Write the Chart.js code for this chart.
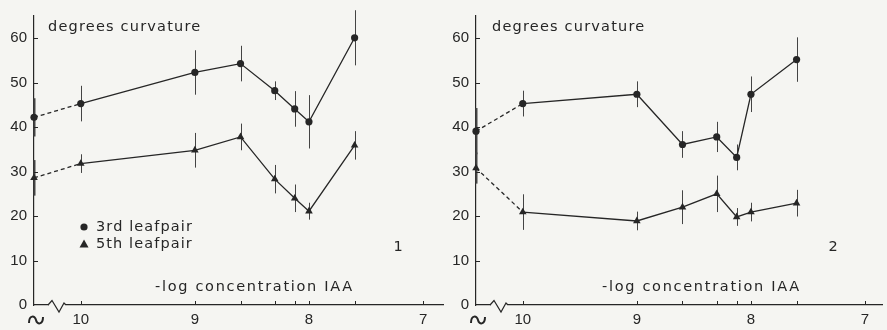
<!DOCTYPE html>
<html>
<head>
<meta charset="utf-8">
<script src="https://cdn.jsdelivr.net/npm/chart.js@4.4.0/dist/chart.umd.min.js"></script>
<style>
    html, body { margin: 0; padding: 0; background: #f5f5f2; }
    body { width: 887px; height: 330px; position: relative; overflow: hidden; }
    .panel { position: absolute; top: 0; height: 330px; }
    #panel1 { left: 0; width: 448px; }
    #panel2 { left: 442px; width: 445px; }
</style>
</head>
<body>
<div class="panel" id="panel1"><canvas id="chart1" width="448" height="330"></canvas></div>
<div class="panel" id="panel2"><canvas id="chart2" width="445" height="330"></canvas></div>
<script>
// -log concentration IAA; the control (no IAA) sits on the axis break
const CONTROL = 10.41;
const concentrations = [CONTROL, 10, 9, 8.6, 8.3, 8.125, 8, 7.6];
const xTickValues = [7, 7.6, 8, 8.125, 8.3, 8.6, 9, 10];
const yTickValues = [0, 10, 20, 30, 40, 50, 60];

// panel 1
const p1Leaf3    = [42.2, 45.3, 52.3, 54.3, 48.2, 44.1, 41.2, 60.1];
const p1Leaf3Err = [4.3, 4.0, 5.0, 4.0, 2.1, 4.0, 6.0, 6.2];
const p1Leaf5    = [28.6, 31.8, 34.8, 37.8, 28.3, 24.0, 21.1, 35.9];
const p1Leaf5Err = [4.0, 2.1, 3.9, 3.0, 3.2, 3.1, 1.9, 3.2];

// panel 2
const p2Leaf3    = [39.1, 45.3, 47.4, 36.1, 37.8, 33.2, 47.4, 55.2];
const p2Leaf3Err = [5.2, 2.9, 2.9, 3.0, 3.4, 2.9, 4.0, 5.0];
const p2Leaf5    = [30.8, 20.9, 18.9, 22.0, 25.0, 19.8, 20.9, 22.9];
const p2Leaf5Err = [3.5, 4.0, 2.1, 3.8, 4.1, 2.0, 2.1, 3.0];

const INK   = '#262626';
const PAPER = '#f5f5f2';
const TEXT_FONT = '14.5px "DejaVu Sans", sans-serif';
const TICK_FONT = { family: 'Liberation Sans', size: 15 };

const toPoints = vals => vals.map((v, i) => ({ x: concentrations[i], y: v }));

function series(label, vals, errs, style) {
    return {
        label,
        data: toPoints(vals),
        errors: errs,
        borderColor: INK, backgroundColor: INK,
        borderWidth: 1.3,
        pointStyle: style,
        pointRadius: style === 'circle' ? 3.6 : 4.4,
        pointBorderWidth: 0,
        pointBackgroundColor: INK,
        clip: false,
        tension: 0,
        segment: { borderDash: c => c.p0DataIndex === 0 ? [4, 3] : undefined }
    };
}

// error bars, tick marks, axis break and hand-lettered labels
const inkPlugin = {
    id: 'ink',
    beforeDatasetsDraw(chart) {
        const { ctx, scales: { x, y } } = chart;
        ctx.save();
        ctx.strokeStyle = '#444';
        chart.data.datasets.forEach(ds => {
            ds.data.forEach((p, i) => {
                const e = ds.errors[i];
                const px = Math.round(x.getPixelForValue(p.x)) + 0.5;
                ctx.lineWidth = i === 0 ? 2 : 1;   // control bar sits on the axis, drawn heavier
                ctx.beginPath();
                ctx.moveTo(px, y.getPixelForValue(p.y - e));
                ctx.lineTo(px, y.getPixelForValue(p.y + e));
                ctx.stroke();
            });
        });
        ctx.restore();
    },
    afterDraw(chart, args, opts) {
        const { ctx, chartArea: a, scales: { x, y } } = chart;
        ctx.save();
        ctx.strokeStyle = INK;
        ctx.fillStyle = INK;
        ctx.lineWidth = 1;

        // inward tick marks
        xTickValues.forEach(v => {
            const px = Math.round(x.getPixelForValue(v)) + 0.5;
            ctx.beginPath(); ctx.moveTo(px, a.bottom); ctx.lineTo(px, a.bottom - 4); ctx.stroke();
        });
        yTickValues.slice(1).forEach(v => {
            const py = Math.round(y.getPixelForValue(v)) + 0.5;
            ctx.beginPath(); ctx.moveTo(a.left, py); ctx.lineTo(a.left + 4, py); ctx.stroke();
        });

        // axis break zigzag
        ctx.fillStyle = PAPER;
        ctx.fillRect(a.left + 15, a.bottom - 2, 17, 4);
        ctx.lineWidth = 1.2;
        ctx.beginPath();
        ctx.moveTo(a.left + 14, a.bottom);
        ctx.lineTo(a.left + 18, a.bottom - 4.5);
        ctx.lineTo(a.left + 25, a.bottom + 7);
        ctx.lineTo(a.left + 30, a.bottom - 2);
        ctx.lineTo(a.left + 32, a.bottom);
        ctx.stroke();

        // tilde under the control position
        const cx = a.left + 2, cy = a.bottom + 15;
        ctx.lineWidth = 2;
        ctx.beginPath();
        ctx.moveTo(cx - 7, cy + 3);
        ctx.bezierCurveTo(cx - 7, cy - 5, cx - 1, cy - 5, cx, cy);
        ctx.bezierCurveTo(cx + 1, cy + 5, cx + 7, cy + 5, cx + 7, cy - 3);
        ctx.stroke();

        // texts
        ctx.fillStyle = INK;
        ctx.font = TEXT_FONT;
        ctx.textBaseline = 'middle';
        ctx.letterSpacing = '1.2px';
        ctx.fillText('degrees curvature', opts.titleX, 27);
        ctx.letterSpacing = '1.7px';
        ctx.fillText('-log concentration IAA', opts.axisX, 287);
        ctx.letterSpacing = '0px';
        ctx.textAlign = 'center';
        ctx.fillText(opts.number, opts.numberX, 247);
        ctx.textAlign = 'left';

        if (opts.legend) {
            ctx.letterSpacing = '1.1px';
            ctx.beginPath(); ctx.arc(84, 227, 3.6, 0, Math.PI * 2); ctx.fill();
            ctx.beginPath(); ctx.moveTo(84, 239.5); ctx.lineTo(88.5, 247.5); ctx.lineTo(79.5, 247.5); ctx.closePath(); ctx.fill();
            ctx.fillText('3rd leafpair', 96, 227);
            ctx.fillText('5th leafpair', 96, 244);
        }
        ctx.restore();
    }
};

function makePanel(canvasId, leaf3, leaf3Err, leaf5, leaf5Err, xMin, deco) {
    const ctx = document.getElementById(canvasId).getContext('2d');
    return new Chart(ctx, {
        type: 'line',
        data: {
            datasets: [
                series('3rd leafpair', leaf3, leaf3Err, 'circle'),
                series('5th leafpair', leaf5, leaf5Err, 'triangle')
            ]
        },
        options: {
            responsive: false,
            animation: false,
            layout: { padding: { top: 10, right: 0, bottom: 0, left: 0 } },
            plugins: { legend: { display: false }, tooltip: { enabled: false }, ink: deco },
            scales: {
                x: {
                    type: 'linear', reverse: true, min: xMin, max: CONTROL,
                    afterBuildTicks: s => { s.ticks = xTickValues.map(v => ({ value: v })); },
                    afterFit: s => { s.height = 25; },
                    grid: { display: false, drawTicks: false },
                    border: { display: true, color: INK, width: 1.2 },
                    ticks: {
                        autoSkip: false, maxRotation: 0, padding: 6, color: INK,
                        font: TICK_FONT,
                        callback: v => Number.isInteger(v) ? String(v) : ''
                    }
                },
                y: {
                    min: 0, max: 65,
                    afterBuildTicks: s => { s.ticks = yTickValues.map(v => ({ value: v })); },
                    afterFit: s => { s.width = 34; },
                    grid: { display: false, drawTicks: false },
                    border: { display: true, color: INK, width: 1.2 },
                    ticks: { padding: 7, color: INK, font: TICK_FONT }
                }
            }
        },
        plugins: [inkPlugin]
    });
}

document.addEventListener('DOMContentLoaded', () => {
    makePanel('chart1', p1Leaf3, p1Leaf3Err, p1Leaf5, p1Leaf5Err, 6.82,
        { titleX: 48, axisX: 155, number: '1', numberX: 398, legend: true });
    makePanel('chart2', p2Leaf3, p2Leaf3Err, p2Leaf5, p2Leaf5Err, 6.846,
        { titleX: 50, axisX: 160, number: '2', numberX: 391, legend: false });
});
</script>
</body>
</html>
